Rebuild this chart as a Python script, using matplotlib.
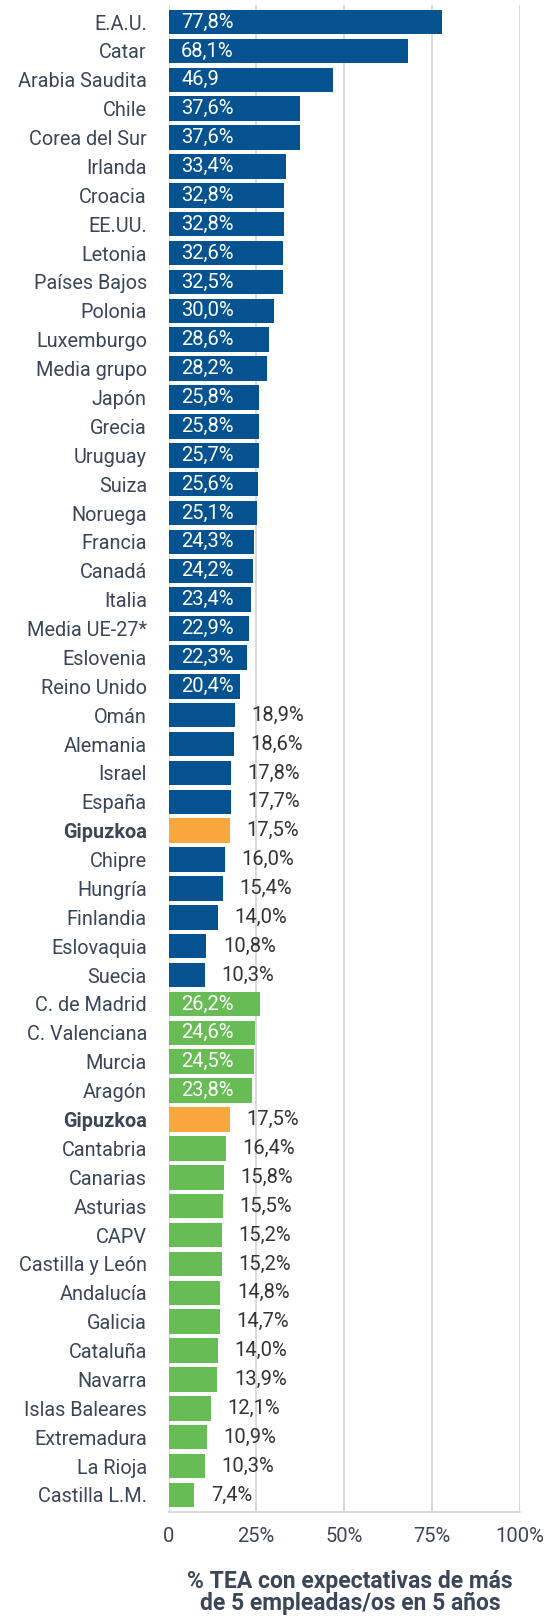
import matplotlib
matplotlib.use("Agg")
import matplotlib.pyplot as plt

plt.rcParams['font.family'] = ['Roboto', 'DejaVu Sans']

countries = ['E.A.U.', 'Catar', 'Arabia Saudita', 'Chile', 'Corea del Sur', 'Irlanda',
             'Croacia', 'EE.UU.', 'Letonia', 'Países Bajos', 'Polonia', 'Luxemburgo',
             'Media grupo', 'Japón', 'Grecia', 'Uruguay', 'Suiza', 'Noruega', 'Francia',
             'Canadá', 'Italia', 'Media UE-27*', 'Eslovenia', 'Reino Unido', 'Omán',
             'Alemania', 'Israel', 'España', 'Gipuzkoa', 'Chipre', 'Hungría', 'Finlandia',
             'Eslovaquia', 'Suecia']
country_values = [77.8, 68.1, 46.9, 37.6, 37.6, 33.4, 32.8, 32.8, 32.6, 32.5, 30.0, 28.6,
                  28.2, 25.8, 25.8, 25.7, 25.6, 25.1, 24.3, 24.2, 23.4, 22.9, 22.3, 20.4,
                  18.9, 18.6, 17.8, 17.7, 17.5, 16.0, 15.4, 14.0, 10.8, 10.3]

regions = ['C. de Madrid', 'C. Valenciana', 'Murcia', 'Aragón', 'Gipuzkoa', 'Cantabria',
           'Canarias', 'Asturias', 'CAPV', 'Castilla y León', 'Andalucía', 'Galicia',
           'Cataluña', 'Navarra', 'Islas Baleares', 'Extremadura', 'La Rioja', 'Castilla L.M.']
region_values = [26.2, 24.6, 24.5, 23.8, 17.5, 16.4, 15.8, 15.5, 15.2, 15.2, 14.8, 14.7,
                 14.0, 13.9, 12.1, 10.9, 10.3, 7.4]

# the source prints "46,9" without the percent sign
no_pct = {'Arabia Saudita'}

BLUE = '#04528f'
GREEN = '#68bc55'
ORANGE = '#f8a73f'
TEXT = '#3b4658'

labels = countries + regions
values = country_values + region_values
colors = []
for name in countries:
    colors.append(ORANGE if name == 'Gipuzkoa' else BLUE)
for name in regions:
    colors.append(ORANGE if name == 'Gipuzkoa' else GREEN)

fig = plt.figure(figsize=(5.59, 16.18), dpi=100)
ax = fig.add_axes([168.5 / 559, 1 - 1512 / 1618, 351 / 559, (1512 - 5) / 1618])

ypos = list(range(len(labels)))
ax.barh(ypos, values, height=0.85, color=colors, zorder=3)

for y, v, name, c in zip(ypos, values, labels, colors):
    txt = f"{v:.1f}".replace('.', ',')
    if name not in no_pct:
        txt += '%'
    if v > 20 and c != ORANGE:
        ax.annotate(txt, (0, y), xytext=(9, 0), textcoords='offset points',
                    ha='left', va='center', color='white', fontsize=14.5, zorder=4)
    else:
        ax.annotate(txt, (v, y), xytext=(12, 0), textcoords='offset points',
                    ha='left', va='center', color='#333333', fontsize=14.5, zorder=4)

ax.set_xlim(0, 100)
ax.set_ylim(len(labels) - 1 + 0.59, -0.59)
ax.set_xticks([0, 25, 50, 75, 100])
ax.set_xticklabels(['0', '25%', '50%', '75%', '100%'], fontsize=14.5, color=TEXT)
ax.set_yticks(ypos)
ax.set_yticklabels(labels, fontsize=14.3, color=TEXT)
for lab in ax.get_yticklabels():
    if lab.get_text() == 'Gipuzkoa':
        lab.set_fontweight('bold')
ax.tick_params(axis='y', length=0, pad=15.5)
ax.tick_params(axis='x', length=0, pad=11)
ax.grid(axis='x', color='#d3d3d3', linewidth=1.2, zorder=0)
for s in ['top', 'left', 'right']:
    ax.spines[s].set_visible(False)
ax.spines['bottom'].set_color('#d3d3d3')
ax.spines['bottom'].set_linewidth(1.2)

fig.text(350 / 559, 1 - 1592.5 / 1618,
         '% TEA con expectativas de más\nde 5 empleadas/os en 5 años',
         ha='center', va='center', fontsize=16.5, fontweight='bold', color=TEXT,
         linespacing=0.95)

fig.savefig('out.png', dpi=100)
